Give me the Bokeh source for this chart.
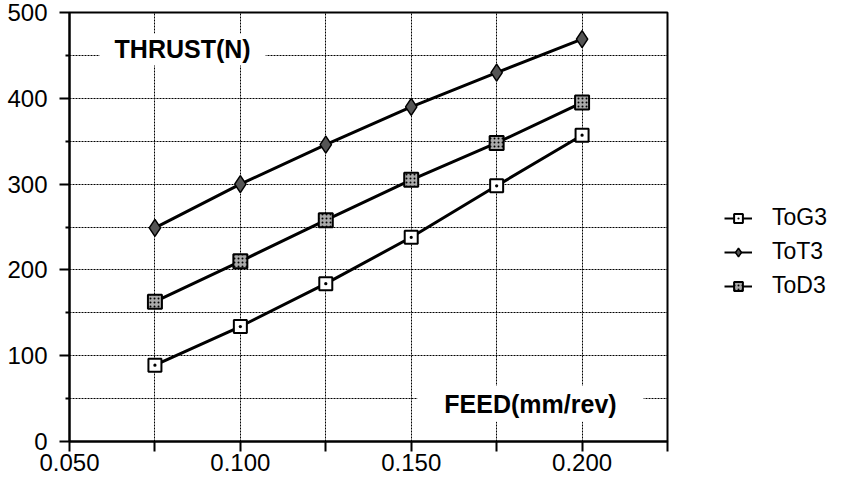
from bokeh.plotting import figure
from bokeh.layouts import row
from bokeh.models import (FixedTicker, Legend, LegendItem, Label, ColumnDataSource)
from bokeh.embed import file_html
from bokeh.resources import INLINE

# ---- data ----
feed = [0.075, 0.100, 0.125, 0.150, 0.175, 0.200]
tog3 = [89, 134, 184, 238, 298, 357]
tot3 = [249, 300, 346, 390, 430, 469]
tod3 = [163, 210, 258, 305, 348, 395]
series_names = ["ToG3", "ToT3", "ToD3"]
x_major = [0.050, 0.100, 0.150, 0.200]
x_minor = [0.075, 0.125, 0.175, 0.225]
x_labels = ["0.050", "0.100", "0.150", "0.200"]
y_major = [0, 100, 200, 300, 400, 500]
y_minor = [50, 150, 250, 350, 450]
x_grid = [0.050, 0.075, 0.100, 0.125, 0.150, 0.175, 0.200, 0.225]
y_grid = [0, 50, 100, 150, 200, 250, 300, 350, 400, 450, 500]

FONT = "Liberation Sans"

p = figure(width=669, height=481, x_range=(0.05, 0.225), y_range=(0, 500),
           output_backend="svg", toolbar_location=None,
           min_border_left=69, min_border_right=2, min_border_top=12,
           min_border_bottom=40)
p.background_fill_color = "white"
p.border_fill_color = "white"
p.outline_line_color = "black"
p.outline_line_width = 2

# axes
for ax in (p.xaxis[0], p.yaxis[0]):
    ax.axis_line_width = 2
    ax.axis_line_color = "black"
    ax.major_tick_line_width = 2
    ax.minor_tick_line_width = 2
    ax.major_tick_in = 0
    ax.minor_tick_in = 0
    ax.major_label_text_font = FONT
    ax.major_label_text_font_size = "24px"
    ax.major_label_text_color = "black"

p.xaxis[0].ticker = FixedTicker(ticks=x_major, minor_ticks=x_minor)
p.xaxis[0].major_label_overrides = {t: l for t, l in zip(x_major, x_labels)}
p.xaxis[0].major_tick_out = 10
p.xaxis[0].minor_tick_out = 10
p.xaxis[0].major_label_standoff = 2

p.yaxis[0].ticker = FixedTicker(ticks=y_major, minor_ticks=y_minor)
p.yaxis[0].major_tick_out = 10
p.yaxis[0].minor_tick_out = 4
p.yaxis[0].major_label_standoff = 12

# grid
p.xgrid[0].ticker = FixedTicker(ticks=x_grid)
p.ygrid[0].ticker = FixedTicker(ticks=y_grid)
for g in (p.xgrid[0], p.ygrid[0]):
    g.grid_line_color = "black"
    g.grid_line_width = 1
    g.grid_line_dash = "2 1"
    g.grid_line_alpha = 1.0

src = ColumnDataSource(dict(x=feed, g=tog3, t=tot3, d=tod3))

styles = {
    "g": dict(marker="square_dot", size=13, fill_color="white",
              line_color="black", line_width=2),
    "t": dict(marker="diamond", size=17, fill_color="#555555",
              line_color="black", line_width=1.5),
    "d": dict(marker="square", size=14, fill_color="#aaaaaa",
              line_color="black", line_width=2, hatch_pattern="dot",
              hatch_color="black", hatch_scale=4),
}

for key in ["g", "t", "d"]:
    p.line("x", key, source=src, line_color="black", line_width=3)
    p.scatter("x", key, source=src, **styles[key])

thrust = Label(x=0.0831, y=457, text="THRUST(N)", text_align="center",
               text_baseline="middle", text_font=FONT, text_font_style="bold",
               text_font_size="25px", text_color="black",
               background_fill_color="white",
               padding=dict(left=15, right=15, top=2, bottom=2))
feedl = Label(x=0.1849, y=44, text="FEED(mm/rev)", text_align="center",
              text_baseline="middle", text_font=FONT, text_font_style="bold",
              text_font_size="25px", text_color="black",
              background_fill_color="white",
              padding=dict(left=27, right=27, top=4, bottom=4))
p.add_layout(thrust)
p.add_layout(feedl)

# ---- legend panel (separate figure; its glyphs lie outside its view) ----
q = figure(width=165, height=481, x_range=(0, 1), y_range=(0, 1),
           output_backend="svg", toolbar_location=None,
           x_axis_location=None, y_axis_location=None, min_border=0)
q.grid.visible = False
q.outline_line_color = None
q.background_fill_color = "white"
q.border_fill_color = "white"

items = []
for key, name in zip(["g", "t", "d"], series_names):
    lr = q.line("x", key, source=src, line_color="black", line_width=2)
    sr = q.scatter("x", key, source=src, **styles[key])
    items.append(LegendItem(label=name, renderers=[lr, sr]))

legend = Legend(items=items, location=(55, 142))
legend.border_line_alpha = 0
legend.background_fill_alpha = 0
legend.padding = 0
legend.margin = 0
legend.glyph_width = 28
legend.glyph_height = 22
legend.label_height = 22
legend.spacing = 7
legend.label_standoff = 20
legend.label_text_font = FONT
legend.label_text_font_size = "23px"
legend.label_text_color = "black"
q.add_layout(legend, "center")

layout = row(p, q)
open("out.html", "w").write(file_html(layout, INLINE))
